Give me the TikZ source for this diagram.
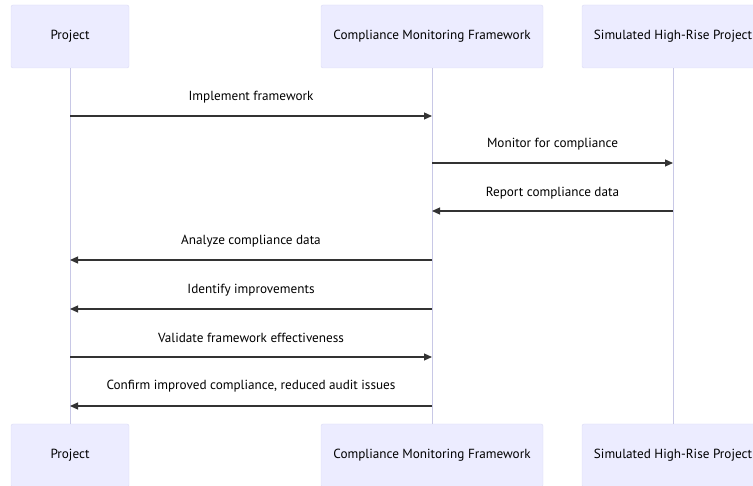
\documentclass[tikz,border=0pt]{standalone}
\usepackage{fontspec}
\setmainfont{PT Sans}
\usetikzlibrary{arrows.meta}
\definecolor{boxfill}{HTML}{ECECFF}
\definecolor{boxline}{HTML}{DCDCF5}
\definecolor{lifel}{HTML}{C8C8E6}
\definecolor{msg}{HTML}{333333}
\tikzset{
  actor/.style={draw=boxline, fill=boxfill, rounded corners=2pt, minimum height=63pt, inner sep=0pt, font=\fontsize{13.2pt}{15pt}\selectfont, text=black},
  life/.style={draw=lifel, line width=0.8pt},
  msgline/.style={draw=msg, line width=1.2pt, -{Triangle[length=8pt,width=7pt]}},
  lbl/.style={font=\fontsize{13.2pt}{15pt}\selectfont, text=black, inner sep=0pt}
}
\begin{document}
\begin{tikzpicture}[x=1pt,y=-1pt]
\useasboundingbox (0,0) rectangle (753,486);
\begin{scope}
\clip (0,0) rectangle (753,486);
\node[actor, minimum width=118pt] (pT) at (70,36.5) {Project};
\node[actor, minimum width=222pt] (cT) at (432,36.5) {Compliance Monitoring Framework};
\node[actor, minimum width=182pt] (sT) at (673,36.5) {Simulated High-Rise Project};
\node[actor, minimum width=118pt] (pB) at (70,455.5) {Project};
\node[actor, minimum width=222pt] (cB) at (432,455.5) {Compliance Monitoring Framework};
\node[actor, minimum width=182pt] (sB) at (673,455.5) {Simulated High-Rise Project};
\end{scope}
\draw[life] (pT.south) -- (pB.north);
\draw[life] (cT.south) -- (cB.north);
\draw[life] (sT.south) -- (sB.north);
% messages
\coordinate (p1) at (70,116); \coordinate (c1) at (432,116);
\coordinate (c2) at (432,163); \coordinate (s2) at (673,163);
\coordinate (s3) at (673,211); \coordinate (c3) at (432,211);
\coordinate (c4) at (432,260); \coordinate (p4) at (70,260);
\coordinate (c5) at (432,309); \coordinate (p5) at (70,309);
\coordinate (p6) at (70,357); \coordinate (c6) at (432,357);
\coordinate (c7) at (432,406); \coordinate (p7) at (70,406);
\draw[msgline] (p1) -- (c1);
\draw[msgline] (c2) -- (s2);
\draw[msgline] (s3) -- (c3);
\draw[msgline] (c4) -- (p4);
\draw[msgline] (c5) -- (p5);
\draw[msgline] (p6) -- (c6);
\draw[msgline] (c7) -- (p7);
\node[lbl] (l1) at (251,97) {Implement framework};
\node[lbl] (l2) at (552.5,144) {Monitor for compliance};
\node[lbl] (l3) at (552.5,193) {Report compliance data};
\node[lbl] (l4) at (251,241) {Analyze compliance data};
\node[lbl] (l5) at (251,290) {Identify improvements};
\node[lbl] (l6) at (251,338) {Validate framework effectiveness};
\node[lbl] (l7) at (251,386) {Confirm improved compliance, reduced audit issues};
\end{tikzpicture}
\end{document}
